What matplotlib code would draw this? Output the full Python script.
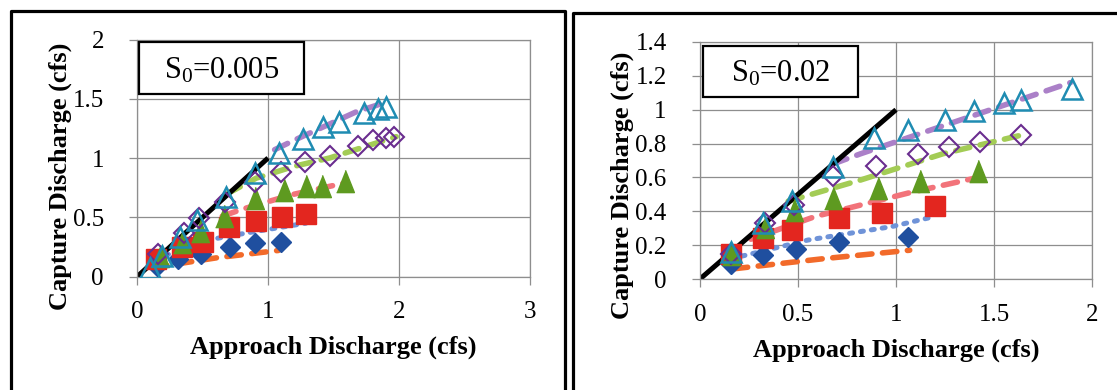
"""Capture discharge vs approach discharge for two longitudinal slopes"""

import matplotlib
matplotlib.use('Agg')
import matplotlib.pyplot as plt
from matplotlib.lines import Line2D
from matplotlib.patches import Rectangle

plt.rcParams['font.family'] = ['Liberation Serif', 'DejaVu Serif']
plt.rcParams['mathtext.fontset'] = 'custom'
plt.rcParams['mathtext.rm'] = 'Liberation Serif'

# ---- S0 = 0.005 ----
blue_x_005 = [0.15, 0.31, 0.49, 0.71, 0.90, 1.10]
blue_y_005 = [0.09, 0.15, 0.19, 0.25, 0.28, 0.29]
red_x_005 = [0.14, 0.34, 0.50, 0.70, 0.91, 1.11, 1.29]
red_y_005 = [0.15, 0.25, 0.29, 0.42, 0.47, 0.50, 0.53]
green_x_005 = [0.17, 0.34, 0.48, 0.66, 0.90, 1.12, 1.29, 1.41, 1.59]
green_y_005 = [0.17, 0.29, 0.38, 0.51, 0.66, 0.73, 0.76, 0.76, 0.81]
purple_x_005 = [0.16, 0.36, 0.47, 0.67, 0.90, 1.10, 1.28, 1.47, 1.69, 1.80, 1.90, 1.96]
purple_y_005 = [0.19, 0.37, 0.49, 0.63, 0.80, 0.88, 0.97, 1.02, 1.10, 1.15, 1.17, 1.18]
cyan_x_005 = [0.10, 0.19, 0.33, 0.46, 0.68, 0.90, 1.08, 1.27, 1.42, 1.54, 1.73, 1.84, 1.90]
cyan_y_005 = [0.07, 0.17, 0.33, 0.48, 0.67, 0.87, 1.04, 1.16, 1.26, 1.30, 1.38, 1.41, 1.43]

# trend lines
orange_tx_005 = [0.12, 0.21, 0.62, 1.08]
orange_ty_005 = [0.065, 0.09, 0.16, 0.22]
blue_tx_005 = [0.14, 0.35, 0.55, 0.85, 1.29]
blue_ty_005 = [0.14, 0.24, 0.31, 0.37, 0.45]
salmon_tx_005 = [0.65, 0.81, 1.18, 1.59]
salmon_ty_005 = [0.51, 0.57, 0.69, 0.79]
lgreen_tx_005 = [0.69, 0.91, 1.20, 1.47, 1.98]
lgreen_ty_005 = [0.70, 0.83, 0.93, 1.00, 1.18]
violet_tx_005 = [1.05, 1.20, 1.675, 1.90]
violet_ty_005 = [1.07, 1.15, 1.39, 1.47]

# ---- S0 = 0.02 ----
blue_x_02 = [0.16, 0.32, 0.49, 0.71, 1.06]
blue_y_02 = [0.09, 0.14, 0.18, 0.22, 0.25]
red_x_02 = [0.16, 0.32, 0.47, 0.71, 0.93, 1.20]
red_y_02 = [0.15, 0.24, 0.29, 0.36, 0.39, 0.43]
green_x_02 = [0.16, 0.33, 0.48, 0.68, 0.91, 1.12, 1.42]
green_y_02 = [0.15, 0.31, 0.41, 0.48, 0.54, 0.58, 0.64]
purple_x_02 = [0.16, 0.33, 0.48, 0.68, 0.90, 1.11, 1.27, 1.43, 1.64]
purple_y_02 = [0.15, 0.33, 0.44, 0.61, 0.67, 0.74, 0.78, 0.81, 0.85]
cyan_x_02 = [0.16, 0.32, 0.47, 0.68, 0.89, 1.06, 1.25, 1.40, 1.55, 1.64, 1.90]
cyan_y_02 = [0.16, 0.33, 0.46, 0.66, 0.83, 0.88, 0.94, 0.99, 1.04, 1.06, 1.12]

orange_tx_02 = [0.17, 0.63, 1.07]
orange_ty_02 = [0.06, 0.12, 0.17]
blue_tx_02 = [0.16, 0.55, 0.98, 1.20]
blue_ty_02 = [0.12, 0.23, 0.31, 0.37]
salmon_tx_02 = [0.26, 0.59, 1.07, 1.42]
salmon_ty_02 = [0.235, 0.37, 0.51, 0.60]
lgreen_tx_02 = [0.45, 0.82, 1.24, 1.64]
lgreen_ty_02 = [0.46, 0.585, 0.74, 0.85]
violet_tx_02 = [0.68, 0.82, 1.33, 1.89]
violet_ty_02 = [0.68, 0.74, 0.94, 1.16]

# line of equality
equal_x = [0, 1]
equal_y = [0, 1]

xticks_005 = [0, 1, 2, 3]
xlabels_005 = ['0', '1', '2', '3']
yticks_005 = [0, 0.5, 1, 1.5, 2]
ylabels_005 = ['0', '0.5', '1', '1.5', '2']
xticks_02 = [0, 0.5, 1, 1.5, 2]
xlabels_02 = ['0', '0.5', '1', '1.5', '2']
yticks_02 = [0, 0.2, 0.4, 0.6, 0.8, 1, 1.2, 1.4]
ylabels_02 = ['0', '0.2', '0.4', '0.6', '0.8', '1', '1.2', '1.4']

W, H = 1117, 390
GRID = '#8e8e8e'
# slightly narrow filled triangle
NARROW_TRI = [(-0.8, -1), (0.8, -1), (0, 1)]


def draw_panel(ax, series, trends, xticks, xlabels, yticks, ylabels, slope_text,
               ylab_y, box):
    """Draws one panel: trend lines, 1:1 line and the five data series"""
    trend_styles = [
        ('#f26a2a', (0, (2.6, 1.9)), 4.0),
        ('#6f93d8', (0, (0.6, 1.6)), 3.6),
        ('#f2737a', (0, (2.6, 1.9)), 4.0),
        ('#a3cc55', (0, (2.6, 1.9)), 4.0),
        ('#ab80c8', (0, (2.6, 1.9)), 4.0),
    ]
    for (tx, ty), (col, ls, lw) in zip(trends, trend_styles):
        ax.plot(tx, ty, color=col, linestyle=ls, lw=lw, dash_capstyle='round',
                zorder=2)
    ax.plot(equal_x, equal_y, color='black', lw=3.6, solid_capstyle='butt',
            zorder=2.5)

    (bx, by), (rx, ry), (gx, gy), (px, py), (cx, cy) = series
    ax.plot(bx, by, 'D', ms=10.5, color='#1f4f9f', mec='#1f4f9f', zorder=3)
    ax.plot(rx, ry, 's', ms=14, color='#e3261f', mec='#e3261f', zorder=3)
    ax.plot(gx, gy, marker=NARROW_TRI, ls='none', ms=16, color='#5e9a20',
            mec='#5e9a20', zorder=3)
    ax.plot(px, py, 'D', ms=10, mfc='none', mec='#6a2d8f', mew=1.5, zorder=3)
    ax.plot(cx, cy, '^', ms=14.5, mfc='none', mec='#1f8cb2', mew=1.8, zorder=3)

    ax.set_xlim(xticks[0], xticks[-1])
    ax.set_ylim(yticks[0], yticks[-1])
    ax.set_xticks(xticks, xlabels)
    ax.set_yticks(yticks, ylabels)
    ax.grid(True, color=GRID, lw=0.9)
    ax.set_axisbelow(True)
    for sp in ax.spines.values():
        sp.set_color(GRID)
        sp.set_linewidth(0.9)
    ax.tick_params(direction='out', length=6, width=0.9, color=GRID,
                   labelsize=18)
    ax.tick_params(axis='x', pad=12)
    ax.tick_params(axis='y', pad=18)

    ax.set_xlabel('Approach Discharge (cfs)', fontsize=19, fontweight='bold')
    ax.set_ylabel('Capture Discharge (cfs)', fontsize=19, fontweight='bold')
    ax.xaxis.label.set_va('center')
    ax.yaxis.label.set_va('center')
    ax.xaxis.set_label_coords(0.5, -0.30)
    ax.yaxis.set_label_coords(-0.197, ylab_y)

    x0, y0, w, h = box
    ax.add_patch(Rectangle((x0, y0), w, h, transform=ax.transAxes,
                           facecolor='white', edgecolor='black', lw=1.6,
                           zorder=5, clip_on=False))
    ax.text(x0 + w / 2, y0 + h / 2 - 0.01, slope_text, transform=ax.transAxes,
            ha='center', va='center', fontsize=22, zorder=6)


def px_line(fig, xs, ys):
    """Panel frame line given in pixel coordinates from the top-left corner"""
    fig.add_artist(Line2D([x / W for x in xs], [1 - y / H for y in ys],
                          color='black', lw=2.3, transform=fig.transFigure))


fig = plt.figure(figsize=(W / 100, H / 100), dpi=100)
ax1 = fig.add_axes([137.3 / W, 1 - 276.5 / H, 392.3 / W, 237 / H])
ax2 = fig.add_axes([700 / W, 1 - 279 / H, 392 / W, 237 / H])

draw_panel(ax1,
           [(blue_x_005, blue_y_005), (red_x_005, red_y_005),
            (green_x_005, green_y_005), (purple_x_005, purple_y_005),
            (cyan_x_005, cyan_y_005)],
           [(orange_tx_005, orange_ty_005), (blue_tx_005, blue_ty_005),
            (salmon_tx_005, salmon_ty_005), (lgreen_tx_005, lgreen_ty_005),
            (violet_tx_005, violet_ty_005)],
           xticks_005, xlabels_005, yticks_005, ylabels_005,
           r'$\mathregular{S_0}$=0.005', 0.424, (0.004, 0.770, 0.42, 0.219))

draw_panel(ax2,
           [(blue_x_02, blue_y_02), (red_x_02, red_y_02),
            (green_x_02, green_y_02), (purple_x_02, purple_y_02),
            (cyan_x_02, cyan_y_02)],
           [(orange_tx_02, orange_ty_02), (blue_tx_02, blue_ty_02),
            (salmon_tx_02, salmon_ty_02), (lgreen_tx_02, lgreen_ty_02),
            (violet_tx_02, violet_ty_02)],
           xticks_02, xlabels_02, yticks_02, ylabels_02,
           r'$\mathregular{S_0}$=0.02', 0.397, (0.008, 0.768, 0.395, 0.215))

# panel frames
px_line(fig, [10.5, 10.5, 565, 565], [H, 10.5, 10.5, H])
px_line(fig, [572.5, 572.5, W], [H, 13, 13])

fig.savefig('out.png', dpi=100)
